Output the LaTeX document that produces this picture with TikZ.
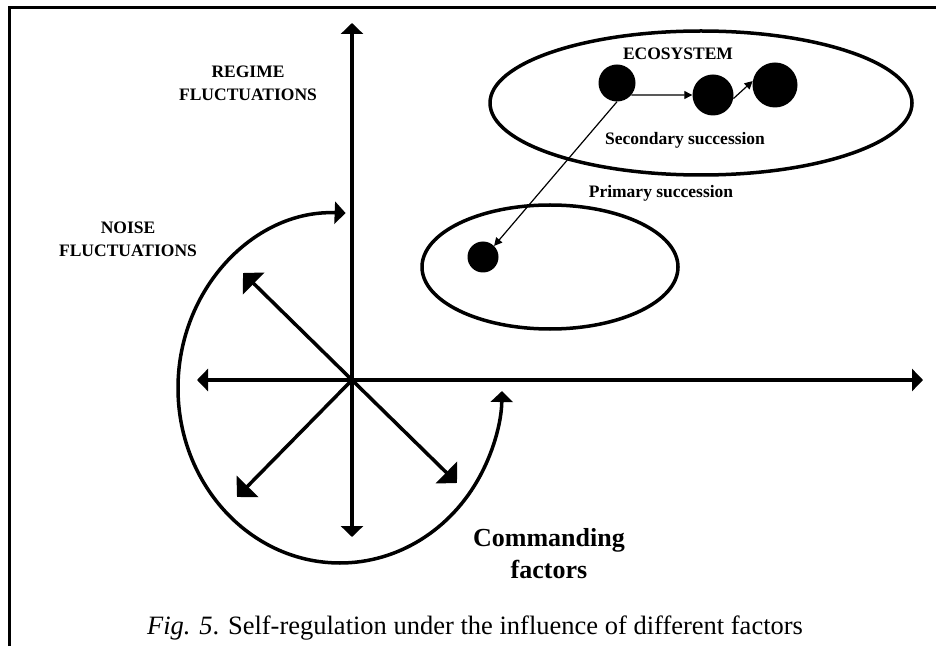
\documentclass[tikz,border=0pt]{standalone}
\usepackage{fontspec}
\setmainfont{Liberation Serif}
\usetikzlibrary{arrows.meta}

\begin{document}
\begin{tikzpicture}[x=1pt,y=1pt,
  axis/.style={line width=3.5pt,-{Triangle[width=22pt,length=11pt]}},
  ray/.style={line width=3.5pt,-{Triangle[width=30pt,length=15pt]}},
  thinarrow/.style={line width=1.2pt,-{Triangle[width=8pt,length=8pt]}},
  dot/.style={circle,fill,inner sep=0pt},
  lbl/.style={font=\fontsize{17.5}{23}\selectfont\bfseries,align=center}]

  \useasboundingbox (0,0) rectangle (936,646);
  \draw[line width=3pt] (9,0) -- (9,638) -- (936,638);

  \coordinate (O) at (352,266);
  \coordinate (top) at (352,623);
  \coordinate (bottom) at (352,109);
  \coordinate (left) at (197,266);
  \coordinate (right) at (923,266);
  \coordinate (nw) at (243,373);
  \coordinate (sw) at (237,149);
  \coordinate (se) at (457,163);

  \draw[axis] (O) -- (top);
  \draw[axis] (O) -- (bottom);
  \draw[axis] (O) -- (left);
  \draw[axis] (O) -- (right);
  \draw[ray] (O) -- (nw);
  \draw[ray] (O) -- (sw);
  \draw[ray] (O) -- (se);

  \draw[line width=3.5pt,{Triangle[width=22pt,length=11pt]}-{Triangle[width=22pt,length=11pt]}]
    (340,258) ++(88:162 and 175) arc[start angle=88,end angle=359,x radius=162,y radius=175];

  \draw[line width=3.5pt] (701,543) ellipse [x radius=211,y radius=72];
  \draw[line width=3.5pt] (550,379) ellipse [x radius=128,y radius=62];

  \node[dot,minimum size=37pt] (d1) at (617,563) {};
  \node[dot,minimum size=41pt] (d2) at (713,551) {};
  \node[dot,minimum size=45pt] (d3) at (775,561) {};
  \node[dot,minimum size=31pt] (d4) at (483,389) {};

  \draw[thinarrow] (d1.-40) -- (d2.west);
  \draw[thinarrow] (d2.-10) -- (d3.170);
  \draw[thinarrow] (d1.south) -- (d4.45);

  \node[lbl] (regime) at (248,563) {REGIME\\FLUCTUATIONS};
  \node[lbl] (noise) at (128,407) {NOISE\\FLUCTUATIONS};
  \node[lbl] (ecosystem) at (678,592) {ECOSYSTEM};
  \node[lbl] (secondary) at (685,506) {Secondary succession};
  \node[lbl] (primary) at (661,453) {Primary succession};
  \node[font=\fontsize{26}{32}\selectfont\bfseries,align=center] (commanding) at (549,92) {Commanding\\factors};
  \node[font=\fontsize{26.5}{32}\selectfont] (caption) at (475,18) {\textit{Fig. 5}. Self-regulation under the influence of different factors};

\end{tikzpicture}
\end{document}
